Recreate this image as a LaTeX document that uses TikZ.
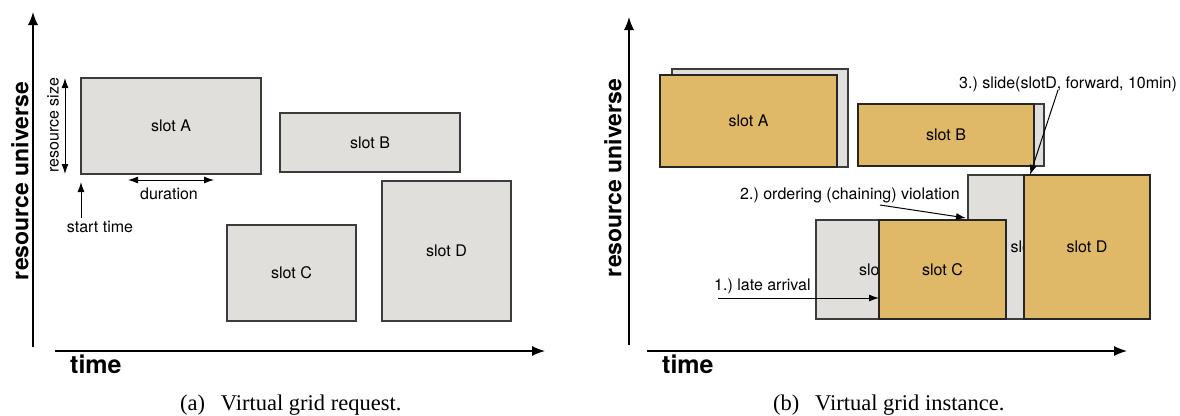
\documentclass[tikz,border=0pt]{standalone}
\usepackage{fontspec}
\setmainfont{Liberation Serif}
\setsansfont{TeX Gyre Heros}
\usetikzlibrary{arrows.meta}
\definecolor{slotgray}{RGB}{224,223,220}
\definecolor{slotgold}{RGB}{223,184,104}
\definecolor{edgecol}{RGB}{60,60,60}
\frenchspacing
\begin{document}
\begin{tikzpicture}[x=1pt,y=-1pt,
  lbl/.style={font=\sffamily\fontsize{16}{19}\selectfont, inner sep=0pt},
  axlbl/.style={font=\sffamily\bfseries\fontsize{23}{27}\selectfont, inner sep=0pt},
  timelbl/.style={font=\sffamily\bfseries\fontsize{25}{29}\selectfont, inner sep=0pt},
  captext/.style={font=\rmfamily\fontsize{22.5}{26}\selectfont, inner sep=0pt},
  graybox/.style={draw=edgecol, line width=1.1pt, fill=slotgray, inner sep=0pt, outer sep=0pt, anchor=north west, lbl},
  goldbox/.style={graybox, fill=slotgold, draw=black!85},
  axisarrow/.style={line width=1.3pt, -{Latex[length=13pt,width=10pt]}},
  smallarrow/.style={line width=1pt, -{Latex[length=10pt,width=7pt]}},
  dblarrow/.style={line width=1pt, {Latex[length=10pt,width=7pt]}-{Latex[length=10pt,width=7pt]}},
]
\useasboundingbox (0,0) rectangle (1180,415);

% ---------- panel (a) ----------
\coordinate (ay0) at (33,347);
\coordinate (ay1) at (33,12);
\coordinate (ax0) at (55,351);
\coordinate (ax1) at (545,351);
\draw[axisarrow] (ay0) -- (ay1);
\draw[axisarrow] (ax0) -- (ax1);
\node[axlbl, rotate=90] (aru) at (20,181) {resource universe};
\node[timelbl, anchor=base west] (atime) at (70,373) {time};

\node[graybox, minimum width=180pt, minimum height=96pt] (aA) at (81,78) {slot A};
\node[graybox, minimum width=180pt, minimum height=59pt] (aB) at (280,113) {slot B};
\node[graybox, minimum width=129pt, minimum height=96pt] (aC) at (227,225) {slot C};
\node[graybox, minimum width=129pt, minimum height=140pt] (aD) at (382,181) {slot D};

\coordinate (rs0) at (65,78);
\coordinate (rs1) at (65,174);
\draw[dblarrow] (rs0) -- (rs1);
\node[lbl, rotate=90] (rslbl) at (53,125) {resource size};

\coordinate (du0) at (128,180);
\coordinate (du1) at (214,180);
\draw[dblarrow] (du0) -- (du1);
\node[lbl] (dulbl) at (169,194) {duration};

\node[lbl] (stlbl) at (100,227) {start time};
\coordinate (st0) at (81,218);
\coordinate (st1) at (81,182);
\draw[smallarrow] (st0) -- (st1);

\node[captext, anchor=base west] (capa) at (180,410) {(a)\hspace{0.7em}Virtual grid request.};

% ---------- panel (b) ----------
\coordinate (by0) at (629,345);
\coordinate (by1) at (629,17);
\coordinate (bx0) at (647,351);
\coordinate (bx1) at (1127,351);
\draw[axisarrow] (by0) -- (by1);
\draw[axisarrow] (bx0) -- (bx1);
\node[axlbl, rotate=90] (bru) at (613,178) {resource universe};
\node[timelbl, anchor=base west] (btime) at (662,373) {time};

\node[graybox, minimum width=176pt, minimum height=98pt] (bAg) at (672,69) {};
\node[goldbox, minimum width=177pt, minimum height=92pt] (bA) at (660,75) {slot A};
\node[graybox, minimum width=176pt, minimum height=62pt] (bBg) at (868,104) {};
\node[goldbox, minimum width=176pt, minimum height=62pt] (bB) at (858,104) {slot B};
\node[graybox, minimum width=126pt, minimum height=144pt] (bDg) at (968,175) {slot D};
\node[graybox, minimum width=127pt, minimum height=99pt] (bCg) at (816,220) {slot C};
\node[goldbox, minimum width=127pt, minimum height=99pt] (bC) at (879,220) {slot C};
\node[goldbox, minimum width=126pt, minimum height=144pt] (bD) at (1024,175) {slot D};

\node[lbl, anchor=west] (t3) at (959,84) {3.) slide(slotD, forward, 10min)};
\node[lbl, anchor=west] (t2) at (740,195) {2.) ordering (chaining) violation};
\node[lbl, anchor=west] (t1) at (714,286) {1.) late arrival};

\coordinate (a1s) at (718,298);
\draw[smallarrow] (a1s) -- (bC.west |- a1s);
\coordinate (a2s) at (880,205);
\coordinate (a2e) at (966,218);
\draw[smallarrow] (a2s) -- (a2e);
\coordinate (a3s) at (1058,90);
\draw[smallarrow] (a3s) -- ([xshift=6pt]bD.north west);

\node[captext, anchor=base west] (capb) at (773,410) {(b)\hspace{0.7em}Virtual grid instance.};
\end{tikzpicture}
\end{document}
